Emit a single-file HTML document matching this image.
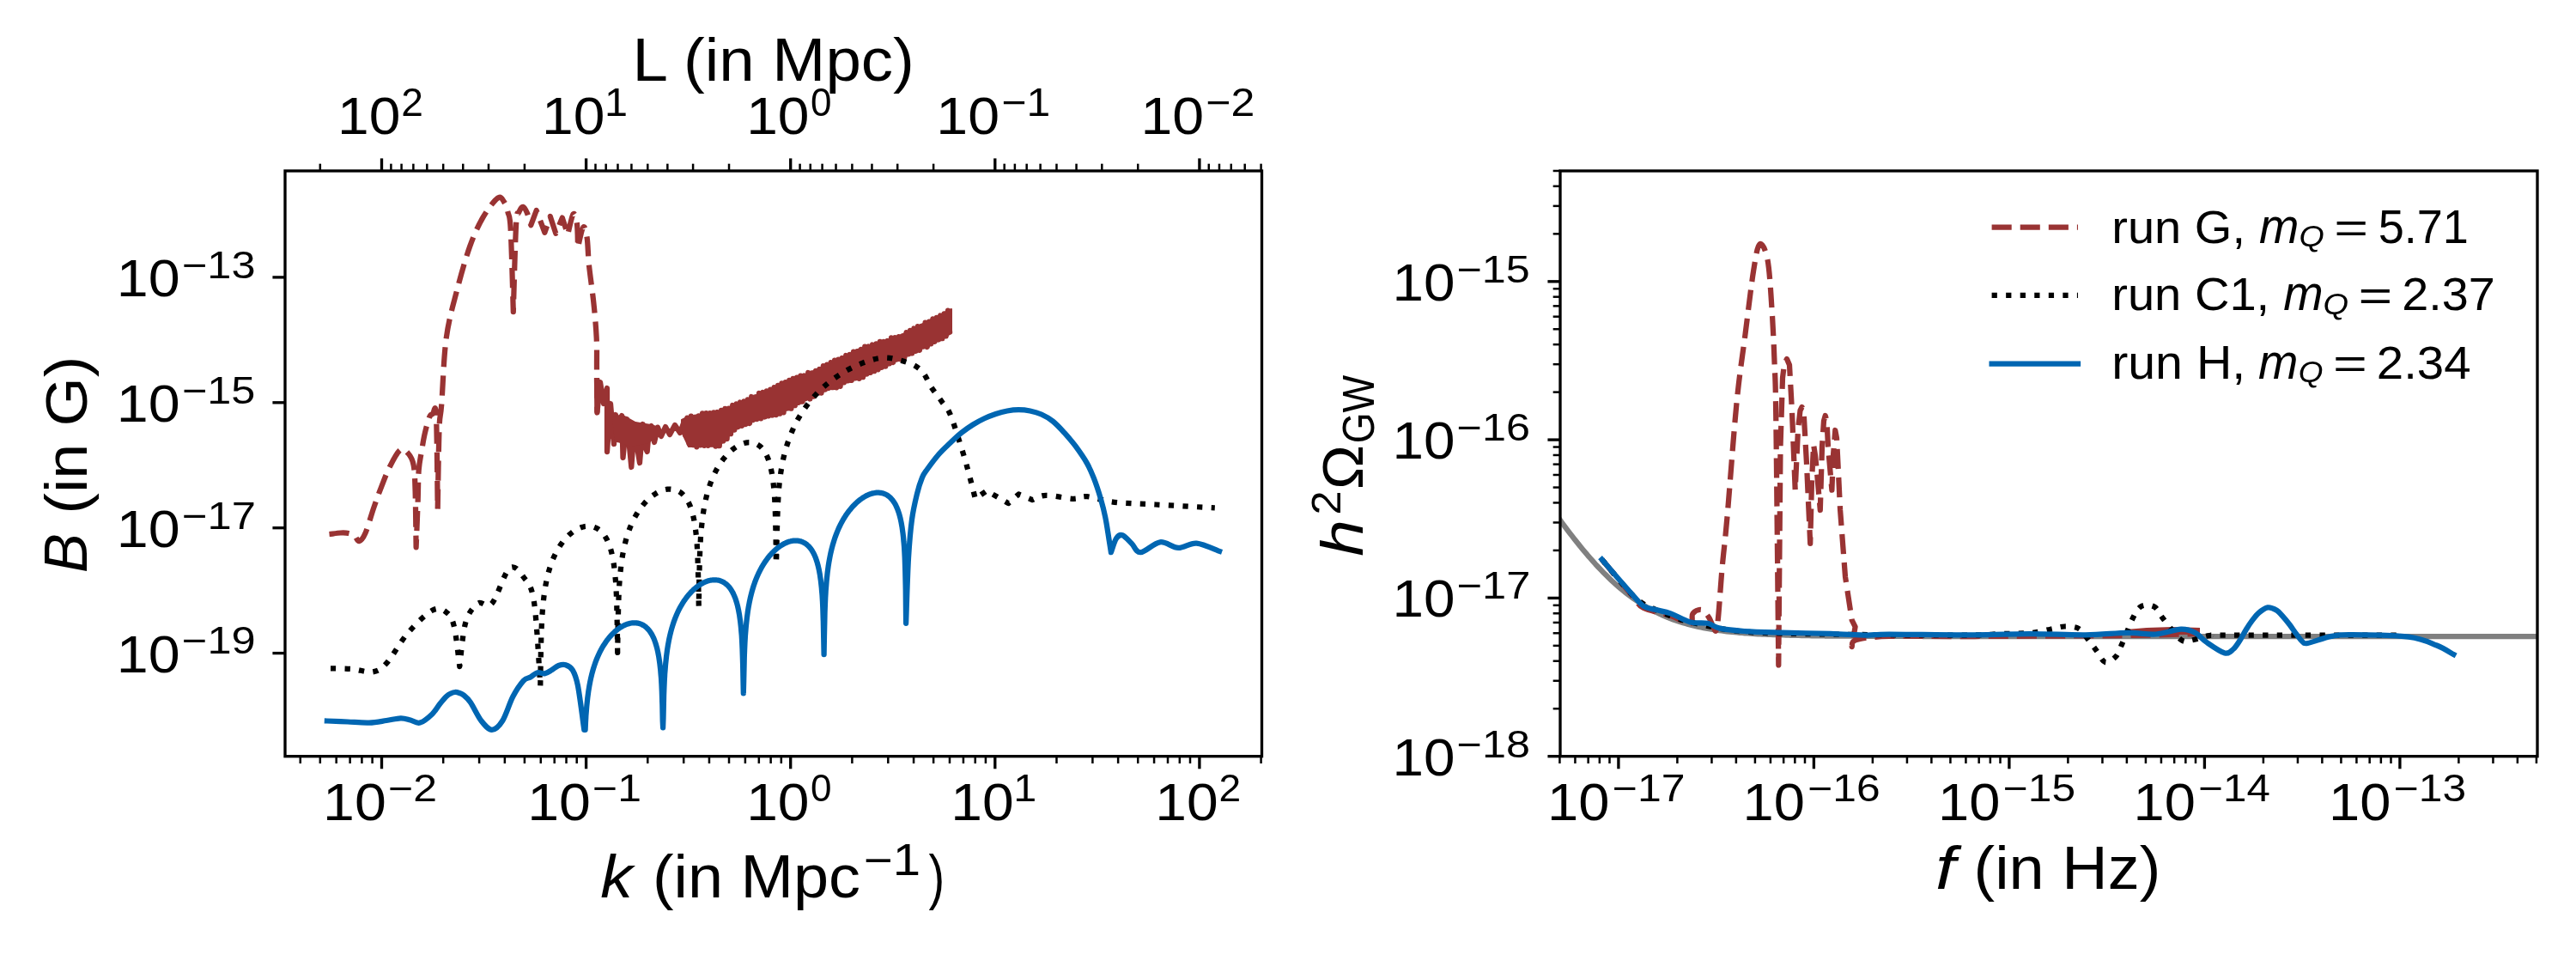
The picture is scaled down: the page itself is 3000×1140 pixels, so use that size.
<!DOCTYPE html>
<html><head><meta charset="utf-8"><style>html,body{margin:0;padding:0;background:#fff;}svg{display:block;will-change:transform;}text{font-family:"Liberation Sans",sans-serif;}</style></head>
<body>
<svg width="3000" height="1140" viewBox="0 0 3000 1140">
<rect width="3000" height="1140" fill="#fff"/>
<defs><clipPath id="cl"><rect x="332" y="199" width="1137.5" height="681.7"/></clipPath><clipPath id="cr"><rect x="1817" y="199" width="1138" height="681.7"/></clipPath></defs>
<path d="M383.5,622.0 C385.7,621.8 393.1,620.7 396.8,620.5 C400.6,620.3 403.3,620.4 406.0,621.0 C408.7,621.6 411.0,622.5 413.0,624.0 C415.0,625.5 416.1,630.7 418.2,630.2 C420.3,629.7 422.5,627.6 425.4,621.0 C428.3,614.4 432.5,599.2 435.6,590.3 C438.7,581.4 440.7,575.6 443.8,567.8 C446.9,560.0 450.3,550.6 454.0,543.3 C457.7,536.0 462.6,526.4 466.2,523.9 C469.8,521.4 472.8,525.1 475.4,528.0 C478.0,530.9 480.2,534.0 481.6,541.3 C483.0,548.6 483.1,556.0 483.6,572.0 C484.1,588.0 484.4,626.4 484.6,637.3 C485.0,628.1 486.2,597.1 486.7,582.1 C487.2,567.1 487.0,556.6 487.7,547.4 C488.4,538.2 489.5,534.1 490.7,527.0 C491.9,519.9 493.2,511.3 494.8,504.5 C496.4,497.7 498.5,489.8 500.0,486.0 C501.5,482.2 502.7,482.3 504.0,482.0 C505.3,481.7 507.1,465.5 508.0,484.0 C508.9,502.5 509.4,574.7 509.7,592.8 C510.0,577.3 510.8,520.2 511.5,500.0 C512.2,479.8 512.8,489.2 514.2,471.5 C515.6,453.8 516.7,416.0 519.7,393.9 C522.7,371.8 527.4,356.6 532.0,338.7 C536.6,320.8 542.2,300.9 547.3,286.6 C552.4,272.3 557.2,262.2 562.6,252.9 C568.0,243.6 575.6,233.5 579.7,230.6 C583.8,227.7 585.2,232.6 587.2,235.4 C589.2,238.2 590.2,241.8 591.5,247.2 C592.8,252.6 593.7,248.3 594.7,267.6 C595.8,286.9 597.3,347.3 597.8,363.2 C598.3,346.2 600.0,280.4 601.1,261.1 C602.2,241.8 602.9,250.6 604.3,247.2 C605.6,243.8 607.6,240.6 609.2,240.8 C610.8,241.0 612.5,244.7 614.0,248.3 C615.5,251.9 617.6,259.9 618.3,262.2 C619.4,259.3 623.6,247.9 624.7,245.0 C626.3,249.3 632.8,266.5 634.4,270.8 C635.5,267.7 639.7,255.1 640.8,252.0 C641.9,255.3 646.2,268.6 647.3,271.9 C648.5,268.8 653.5,256.6 654.8,253.6 C655.9,256.8 660.1,269.8 661.2,273.0 C662.3,269.1 665.8,251.5 667.6,249.3 C669.4,247.1 671.0,253.6 671.9,260.0 C672.8,266.4 672.8,283.3 673.0,288.0 C674.1,284.1 677.6,266.2 679.4,264.4 C681.2,262.6 682.6,269.8 683.7,277.2 C684.8,284.6 684.7,296.5 686.0,309.0 C687.3,321.5 689.8,337.9 691.3,352.0 C692.8,366.1 694.1,380.7 694.7,393.7 C695.3,406.7 694.9,415.5 695.0,430.0 C695.1,444.5 695.3,472.1 695.4,480.5" fill="none" stroke="#993333" stroke-width="6.25" stroke-linejoin="round" stroke-linecap="butt" stroke-dasharray="23.1 10" clip-path="url(#cl)"/>
<path d="M695.0,440.0 L695.4,480.5 L699.0,445.0 L703.0,470.0 L707.0,452.0 L707.0,526.0 L711.0,470.0 L715.0,517.0 L717.0,483.0 L720.0,512.0 L724.2,484.0 L725.5,533.0 L730.0,488.0 L733.0,520.0 L735.3,544.0 L739.0,494.0 L742.0,520.0 L745.0,539.0 L748.7,494.0 L751.0,520.0 L753.7,526.0 L756.0,500.0 L758.6,496.0 L762.0,515.0 L766.0,497.6 L770.0,508.0 L775.0,497.0 L780.0,506.0 L786.0,495.0 L792.0,504.0 L797.0,490.0" fill="none" stroke="#993333" stroke-width="6.25" stroke-linejoin="round" stroke-linecap="butt" clip-path="url(#cl)"/>
<path d="M713,486 L724,482 L740,491 L758,494 L768,497 L768,508 L755,516 L735,520 L716,514 Z" fill="#993333" clip-path="url(#cl)"/>
<path d="M794.0,489.0 L802.0,485.0 L836.0,479.5 L850.0,474.0 L909.0,447.5 L950.0,431.0 L999.0,407.0 L1048.0,391.0 L1108.0,360.0 L1108.0,388.0 L1048.0,418.0 L999.0,440.0 L950.0,459.0 L909.0,480.0 L856.0,497.0 L850.0,506.0 L836.0,519.0 L802.0,520.0 L794.0,503.0Z" fill="#993333" stroke="#993333" stroke-width="2" stroke-linejoin="round" clip-path="url(#cl)"/>
<path d="M796.0,489.3 L798.2,506.9 L800.4,486.7 L802.6,516.4 L804.8,484.7 L807.0,518.1 L809.2,485.8 L811.4,520.3 L813.6,484.3 L815.8,518.4 L818.0,481.4 L820.2,518.9 L822.4,481.2 L824.6,518.8 L826.8,481.1 L829.0,517.7 L831.2,480.4 L833.4,519.7 L835.6,480.0 L837.8,519.2 L840.0,477.9 L842.2,513.5 L844.4,475.9 L846.6,511.0 L848.8,475.6 L851.0,505.2 L853.2,472.0 L855.4,500.6 L857.6,470.4 L859.8,497.1 L862.0,468.5 L864.2,495.8 L866.4,467.4 L868.6,494.1 L870.8,465.3 L873.0,493.1 L875.2,462.0 L877.4,489.1 L879.6,462.3 L881.8,488.1 L884.0,457.8 L886.2,487.3 L888.4,456.9 L890.6,485.5 L892.8,455.3 L895.0,484.4 L897.2,453.7 L899.4,483.5 L901.6,451.1 L903.8,483.1 L906.0,448.8 L908.2,481.7 L910.4,446.4 L912.6,480.3 L914.8,445.2 L917.0,475.5 L919.2,442.8 L921.4,475.7 L923.6,440.9 L925.8,472.2 L928.0,439.7 L930.2,468.9 L932.4,437.6 L934.6,467.7 L936.8,437.5 L939.0,464.0 L941.2,434.0 L943.4,464.5 L945.6,434.5 L947.8,461.7 L950.0,431.8 L952.2,457.5 L954.4,430.0 L956.6,457.6 L958.8,426.1 L961.0,453.7 L963.2,424.7 L965.4,452.0 L967.6,422.2 L969.8,451.2 L972.0,419.6 L974.2,451.4 L976.4,418.6 L978.6,449.8 L980.8,417.0 L983.0,445.3 L985.2,414.0 L987.4,443.4 L989.6,413.0 L991.8,442.9 L994.0,409.6 L996.2,440.4 L998.4,409.2 L1000.6,440.8 L1002.8,406.8 L1005.0,439.2 L1007.2,403.6 L1009.4,435.5 L1011.6,403.5 L1013.8,433.9 L1016.0,401.5 L1018.2,432.2 L1020.4,400.3 L1022.6,430.3 L1024.8,397.8 L1027.0,427.9 L1029.2,397.8 L1031.4,426.6 L1033.6,397.0 L1035.8,423.4 L1038.0,393.3 L1040.2,422.1 L1042.4,393.2 L1044.6,418.5 L1046.8,392.1 L1049.0,418.3 L1051.2,391.3 L1053.4,416.2 L1055.6,387.2 L1057.8,412.4 L1060.0,384.9 L1062.2,411.4 L1064.4,382.5 L1066.6,408.9 L1068.8,380.1 L1071.0,407.8 L1073.2,379.9 L1075.4,403.6 L1077.6,375.7 L1079.8,404.1 L1082.0,374.7 L1084.2,400.4 L1086.4,371.4 L1088.6,397.8 L1090.8,369.8 L1093.0,395.5 L1095.2,367.5 L1097.4,394.2 L1099.6,365.4 L1101.8,391.3 L1104.0,361.7 L1106.2,388.1" fill="none" stroke="#993333" stroke-width="6.25" stroke-linejoin="round" stroke-linecap="butt" clip-path="url(#cl)"/>
<path d="M385.0,778.3 C389.2,778.4 401.8,778.3 410.0,779.0 C418.2,779.7 427.3,783.5 434.0,782.4 C440.7,781.2 443.5,779.6 450.3,772.1 C457.1,764.6 466.0,747.6 474.8,737.4 C483.6,727.2 495.9,714.9 503.4,710.8 C510.9,706.7 515.6,709.8 519.8,712.9 C524.0,716.0 526.2,718.7 528.8,729.2 C531.4,739.8 534.2,768.4 535.3,776.2 C536.4,767.7 538.7,737.4 542.2,725.1 C545.7,712.9 551.4,706.4 556.5,702.7 C561.6,699.0 566.8,709.5 572.9,702.7 C579.0,695.9 587.2,666.9 593.3,661.8 C599.4,656.7 604.9,665.5 609.7,672.0 C614.5,678.5 618.6,679.5 621.9,700.6 C625.2,721.7 628.1,782.4 629.3,798.7 L629.7,768.1 L630.2,745.9 L630.3,741.0 L630.6,732.9 L631.0,723.6 L631.3,718.6 L631.4,716.3 L631.9,710.4 L632.3,705.3 L633.3,695.8 L634.3,688.4 L635.3,682.2 L636.3,677.0 L637.3,672.4 L638.3,668.3 L639.3,664.7 L640.3,661.3 L641.3,658.3 L642.3,655.5 L643.3,652.8 L644.3,650.4 L645.3,648.1 L646.3,646.0 L647.3,644.0 L648.3,642.0 L649.3,640.2 L650.3,638.5 L651.3,636.9 L652.3,635.3 L653.3,633.9 L654.3,632.5 L655.3,631.1 L656.3,629.8 L657.3,628.6 L658.3,627.5 L659.3,626.4 L660.3,625.3 L661.3,624.3 L662.3,623.3 L663.3,622.4 L664.3,621.6 L665.3,620.7 L666.3,620.0 L667.3,619.2 L668.3,618.5 L669.3,617.9 L670.3,617.3 L671.3,616.7 L672.3,616.1 L673.3,615.6 L674.3,615.2 L675.3,614.8 L676.3,614.4 L677.3,614.0 L678.3,613.7 L679.3,613.5 L680.3,613.2 L681.3,613.0 L682.3,612.9 L683.3,612.8 L684.3,612.7 L685.3,612.7 L686.3,612.7 L687.3,612.8 L688.3,612.9 L689.3,613.1 L690.3,613.3 L691.3,613.6 L692.3,614.0 L693.3,614.4 L694.3,614.8 L695.3,615.3 L696.3,615.9 L697.3,616.6 L698.3,617.3 L699.3,618.2 L700.3,619.1 L701.3,620.2 L702.3,621.3 L703.3,622.6 L704.3,624.0 L705.3,625.6 L706.3,627.3 L707.3,629.2 L708.3,631.4 L709.3,633.9 L710.3,636.7 L711.3,639.9 L712.3,643.7 L713.3,648.1 L714.3,653.5 L715.3,660.2 L716.2,668.1 L716.3,669.1 L716.6,672.8 L717.1,678.3 L717.3,682.0 L717.5,685.2 L717.9,694.1 L718.3,705.3 L718.3,706.8 L718.8,728.5 L719.2,759.9 L719.6,732.1 L720.1,709.9 L720.2,704.9 L720.5,696.8 L720.9,687.5 L721.2,682.5 L721.3,680.2 L721.8,674.2 L722.2,669.2 L723.2,659.6 L724.2,652.0 L725.2,645.8 L726.2,640.5 L727.2,635.8 L728.2,631.7 L729.2,627.9 L730.2,624.5 L731.2,621.4 L732.2,618.5 L733.2,615.8 L734.2,613.2 L735.2,610.9 L736.2,608.6 L737.2,606.5 L738.2,604.5 L739.2,602.6 L740.2,600.8 L741.2,599.0 L742.2,597.4 L743.2,595.8 L744.2,594.3 L745.2,592.9 L746.2,591.5 L747.2,590.1 L748.2,588.9 L749.2,587.6 L750.2,586.5 L751.2,585.3 L752.2,584.3 L753.2,583.2 L754.2,582.2 L755.2,581.3 L756.2,580.4 L757.2,579.5 L758.2,578.7 L759.2,577.9 L760.2,577.1 L761.2,576.4 L762.2,575.7 L763.2,575.1 L764.2,574.4 L765.2,573.9 L766.2,573.3 L767.2,572.8 L768.2,572.3 L769.2,571.9 L770.2,571.5 L771.2,571.1 L772.2,570.8 L773.2,570.5 L774.2,570.2 L775.2,570.0 L776.2,569.8 L777.2,569.7 L778.2,569.6 L779.2,569.5 L780.2,569.5 L781.2,569.5 L782.2,569.6 L783.2,569.7 L784.2,569.9 L785.2,570.1 L786.2,570.3 L787.2,570.6 L788.2,571.0 L789.2,571.5 L790.2,572.0 L791.2,572.5 L792.2,573.2 L793.2,573.9 L794.2,574.7 L795.2,575.7 L796.2,576.7 L797.2,577.8 L798.2,579.1 L799.2,580.5 L800.2,582.0 L801.2,583.8 L802.2,585.7 L803.2,588.0 L804.2,590.5 L805.2,593.3 L806.2,596.6 L807.2,600.5 L808.2,605.1 L809.2,610.8 L810.2,618.0 L810.8,623.4 L811.2,627.7 L811.2,628.1 L811.7,633.6 L812.1,640.5 L812.2,642.6 L812.5,649.3 L812.9,662.0 L813.2,673.1 L813.4,683.7 L813.8,706.7 L814.2,678.8 L814.7,656.6 L814.8,651.6 L815.1,643.5 L815.5,634.1 L815.8,629.1 L815.9,626.8 L816.4,620.8 L816.8,615.7 L817.8,606.1 L818.8,598.5 L819.8,592.2 L820.8,586.8 L821.8,582.1 L822.8,577.9 L823.8,574.1 L824.8,570.6 L825.8,567.4 L826.8,564.4 L827.8,561.7 L828.8,559.1 L829.8,556.7 L830.8,554.4 L831.8,552.2 L832.8,550.2 L833.8,548.2 L834.8,546.3 L835.8,544.6 L836.8,542.9 L837.8,541.3 L838.8,539.7 L839.8,538.2 L840.8,536.8 L841.8,535.4 L842.8,534.1 L843.8,532.9 L844.8,531.7 L845.8,530.5 L846.8,529.4 L847.8,528.4 L848.8,527.4 L849.8,526.4 L850.8,525.5 L851.8,524.6 L852.8,523.7 L853.8,522.9 L854.8,522.2 L855.8,521.5 L856.8,520.8 L857.8,520.1 L858.8,519.5 L859.8,518.9 L860.8,518.4 L861.8,517.9 L862.8,517.5 L863.8,517.1 L864.8,516.7 L865.8,516.3 L866.8,516.0 L867.8,515.8 L868.8,515.6 L869.8,515.4 L870.8,515.3 L871.8,515.2 L872.8,515.2 L873.8,515.2 L874.8,515.3 L875.8,515.4 L876.8,515.6 L877.8,515.8 L878.8,516.1 L879.8,516.5 L880.8,516.9 L881.8,517.4 L882.8,518.0 L883.8,518.7 L884.8,519.4 L885.8,520.3 L886.8,521.3 L887.8,522.4 L888.8,523.6 L889.8,525.0 L890.8,526.5 L891.8,528.3 L892.8,530.3 L893.8,532.5 L894.8,535.0 L895.8,538.0 L896.8,541.4 L897.8,545.5 L898.8,550.4 L899.8,556.5 L900.8,564.5 L901.0,566.4 L901.4,571.1 L901.8,575.8 L901.9,576.6 L902.3,583.4 L902.7,592.2 L902.8,594.4 L903.1,604.8 L903.6,626.5 L903.8,650.5 L904.0,656.3 L904.0,656.3 C904.7,640.2 904.9,585.8 908.0,560.0 C911.1,534.2 915.7,518.5 922.6,501.8 C929.5,485.2 939.2,471.7 949.6,460.1 C960.0,448.5 972.8,439.1 985.0,432.0 C997.2,424.9 1012.3,419.2 1023.1,417.2 C1033.9,415.2 1041.8,417.8 1050.0,420.0 C1058.2,422.2 1066.3,425.4 1072.2,430.7 C1078.1,436.0 1081.2,445.9 1085.3,452.0 C1089.4,458.1 1093.2,462.4 1096.7,467.5 C1100.2,472.6 1102.5,472.7 1106.6,482.5 C1110.7,492.3 1117.2,513.4 1121.2,526.3 C1125.2,539.1 1128.1,550.5 1130.5,559.6 C1132.9,568.7 1134.9,577.3 1135.8,580.8 C1138.0,579.2 1146.9,573.0 1149.1,571.5 C1153.3,573.9 1170.1,583.7 1174.3,586.1 C1176.3,584.3 1184.3,577.3 1186.3,575.5 C1189.0,576.6 1199.5,581.0 1202.2,582.1 C1204.9,581.2 1210.2,577.0 1218.2,576.8 C1226.2,576.6 1242.0,580.6 1250.0,580.8 C1258.0,581.0 1258.0,577.5 1266.0,578.2 C1274.0,578.9 1284.6,583.2 1297.9,584.8 C1311.2,586.3 1326.2,586.4 1345.7,587.5 C1365.2,588.6 1403.3,590.8 1414.8,591.4" fill="none" stroke="#000" stroke-width="6.25" stroke-linejoin="round" stroke-linecap="butt" stroke-dasharray="6.25 10.3" clip-path="url(#cl)"/>
<path d="M380.9,839.5 C384.9,839.7 396.8,840.1 405.0,840.5 C413.2,840.9 422.4,841.9 429.9,841.6 C437.4,841.4 443.9,839.9 450.0,839.0 C456.1,838.1 462.0,836.4 466.7,836.3 C471.4,836.2 474.3,837.6 478.0,838.5 C481.7,839.4 484.9,842.8 489.1,841.6 C493.3,840.4 499.6,835.0 503.4,831.4 C507.2,827.8 509.3,823.4 512.0,820.0 C514.7,816.6 517.6,813.1 519.8,811.0 C522.0,808.9 523.3,808.3 525.0,807.5 C526.7,806.7 528.3,806.1 530.0,806.0 C531.7,805.9 533.3,806.4 535.0,807.0 C536.7,807.6 537.8,807.7 540.0,809.5 C542.2,811.3 544.6,813.0 548.0,818.0 C551.4,823.0 556.5,834.2 560.6,839.5 C564.8,844.8 568.8,849.8 572.9,849.8 C577.0,849.8 581.0,846.0 585.1,839.5 C589.2,833.0 593.3,818.8 597.4,811.0 C601.5,803.2 606.3,796.4 609.7,792.6 C613.1,788.9 615.1,790.1 617.8,788.5 C620.5,786.9 623.3,783.9 626.0,783.2 C628.7,782.5 631.5,784.9 634.2,784.4 C636.9,783.9 639.7,781.9 642.4,780.3 C645.1,778.7 647.8,776.0 650.5,775.0 C653.2,774.0 656.0,773.3 658.7,774.2 C661.4,775.1 664.5,776.2 666.9,780.3 C669.3,784.4 670.8,787.1 673.0,798.7 C675.2,810.3 679.1,841.3 680.3,849.8 L680.7,849.8 L681.2,849.8 L681.3,849.8 L681.6,849.8 L682.0,840.5 L682.3,835.5 L682.4,833.2 L682.9,827.3 L683.3,822.2 L684.3,812.6 L685.3,805.1 L686.3,798.9 L687.3,793.6 L688.3,788.9 L689.3,784.8 L690.3,781.1 L691.3,777.7 L692.3,774.6 L693.3,771.7 L694.3,769.0 L695.3,766.5 L696.3,764.2 L697.3,762.0 L698.3,759.9 L699.3,757.9 L700.3,756.0 L701.3,754.2 L702.3,752.5 L703.3,750.9 L704.3,749.4 L705.3,747.9 L706.3,746.5 L707.3,745.1 L708.3,743.9 L709.3,742.6 L710.3,741.4 L711.3,740.3 L712.3,739.2 L713.3,738.2 L714.3,737.2 L715.3,736.3 L716.3,735.3 L717.3,734.5 L718.3,733.7 L719.3,732.9 L720.3,732.1 L721.3,731.4 L722.3,730.8 L723.3,730.1 L724.3,729.6 L725.3,729.0 L726.3,728.5 L727.3,728.0 L728.3,727.6 L729.3,727.2 L730.3,726.8 L731.3,726.5 L732.3,726.2 L733.3,725.9 L734.3,725.7 L735.3,725.5 L736.3,725.4 L737.3,725.3 L738.3,725.3 L739.3,725.3 L740.3,725.3 L741.3,725.4 L742.3,725.6 L743.3,725.7 L744.3,726.0 L745.3,726.3 L746.3,726.7 L747.3,727.1 L748.3,727.6 L749.3,728.1 L750.3,728.8 L751.3,729.5 L752.3,730.3 L753.3,731.2 L754.3,732.2 L755.3,733.3 L756.3,734.5 L757.3,735.9 L758.3,737.4 L759.3,739.1 L760.3,741.1 L761.3,743.2 L762.3,745.7 L763.3,748.5 L764.3,751.7 L765.3,755.4 L766.3,759.9 L767.3,765.3 L768.3,772.2 L769.1,779.2 L769.3,781.3 L769.5,783.9 L770.0,789.4 L770.3,794.8 L770.4,796.3 L770.8,805.2 L771.2,817.8 L771.3,820.0 L771.7,839.5 L772.1,847.3 L772.5,836.5 L773.0,814.4 L773.1,809.4 L773.4,801.3 L773.8,792.0 L774.1,787.0 L774.2,784.7 L774.7,778.7 L775.1,773.6 L776.1,764.1 L777.1,756.5 L778.1,750.3 L779.1,745.0 L780.1,740.4 L781.1,736.2 L782.1,732.5 L783.1,729.1 L784.1,726.0 L785.1,723.1 L786.1,720.4 L787.1,717.9 L788.1,715.5 L789.1,713.3 L790.1,711.2 L791.1,709.2 L792.1,707.3 L793.1,705.5 L794.1,703.8 L795.1,702.2 L796.1,700.6 L797.1,699.1 L798.1,697.7 L799.1,696.3 L800.1,695.0 L801.1,693.8 L802.1,692.6 L803.1,691.4 L804.1,690.3 L805.1,689.2 L806.1,688.2 L807.1,687.3 L808.1,686.3 L809.1,685.4 L810.1,684.6 L811.1,683.8 L812.1,683.0 L813.1,682.3 L814.1,681.6 L815.1,680.9 L816.1,680.3 L817.1,679.7 L818.1,679.2 L819.1,678.6 L820.1,678.2 L821.1,677.7 L822.1,677.3 L823.1,676.9 L824.1,676.6 L825.1,676.3 L826.1,676.0 L827.1,675.8 L828.1,675.6 L829.1,675.5 L830.1,675.4 L831.1,675.3 L832.1,675.3 L833.1,675.3 L834.1,675.4 L835.1,675.5 L836.1,675.6 L837.1,675.8 L838.1,676.1 L839.1,676.4 L840.1,676.8 L841.1,677.2 L842.1,677.7 L843.1,678.3 L844.1,679.0 L845.1,679.7 L846.1,680.5 L847.1,681.4 L848.1,682.4 L849.1,683.6 L850.1,684.8 L851.1,686.2 L852.1,687.8 L853.1,689.5 L854.1,691.5 L855.1,693.7 L856.1,696.1 L857.1,699.0 L858.1,702.2 L859.1,706.0 L860.1,710.6 L861.1,716.1 L862.1,723.2 L862.8,729.4 L863.1,732.6 L863.2,734.1 L863.7,739.6 L864.1,746.5 L864.1,746.7 L864.5,755.4 L864.9,768.0 L865.1,774.3 L865.4,789.7 L865.8,807.4 L866.2,792.7 L866.7,770.5 L866.8,765.6 L867.1,757.5 L867.5,748.1 L867.8,743.1 L867.9,740.8 L868.4,734.8 L868.8,729.7 L869.8,720.1 L870.8,712.6 L871.8,706.3 L872.8,701.0 L873.8,696.3 L874.8,692.2 L875.8,688.4 L876.8,685.0 L877.8,681.8 L878.8,678.9 L879.8,676.2 L880.8,673.6 L881.8,671.2 L882.8,669.0 L883.8,666.8 L884.8,664.8 L885.8,662.9 L886.8,661.1 L887.8,659.3 L888.8,657.7 L889.8,656.1 L890.8,654.5 L891.8,653.1 L892.8,651.7 L893.8,650.3 L894.8,649.0 L895.8,647.8 L896.8,646.6 L897.8,645.5 L898.8,644.4 L899.8,643.4 L900.8,642.4 L901.8,641.4 L902.8,640.5 L903.8,639.6 L904.8,638.8 L905.8,637.9 L906.8,637.2 L907.8,636.5 L908.8,635.8 L909.8,635.1 L910.8,634.5 L911.8,633.9 L912.8,633.4 L913.8,632.8 L914.8,632.4 L915.8,631.9 L916.8,631.5 L917.8,631.1 L918.8,630.8 L919.8,630.5 L920.8,630.3 L921.8,630.0 L922.8,629.8 L923.8,629.7 L924.8,629.6 L925.8,629.5 L926.8,629.5 L927.8,629.6 L928.8,629.6 L929.8,629.8 L930.8,629.9 L931.8,630.2 L932.8,630.4 L933.8,630.8 L934.8,631.2 L935.8,631.7 L936.8,632.2 L937.8,632.8 L938.8,633.5 L939.8,634.3 L940.8,635.2 L941.8,636.1 L942.8,637.2 L943.8,638.4 L944.8,639.8 L945.8,641.3 L946.8,643.0 L947.8,644.9 L948.8,647.0 L949.8,649.4 L950.8,652.2 L951.8,655.4 L952.8,659.1 L953.8,663.5 L954.8,668.9 L955.8,675.7 L956.6,682.8 L956.8,684.8 L957.0,687.4 L957.5,693.0 L957.8,698.3 L957.9,699.8 L958.3,708.7 L958.7,721.3 L958.8,723.4 L959.2,743.0 L959.6,762.2 L960.0,739.9 L960.5,717.7 L960.6,712.7 L960.9,704.6 L961.3,695.2 L961.6,690.2 L961.7,687.9 L962.2,681.9 L962.6,676.8 L963.6,667.2 L964.6,659.6 L965.6,653.3 L966.6,648.0 L967.6,643.2 L968.6,639.0 L969.6,635.2 L970.6,631.8 L971.6,628.6 L972.6,625.6 L973.6,622.9 L974.6,620.3 L975.6,617.9 L976.6,615.6 L977.6,613.4 L978.6,611.3 L979.6,609.4 L980.6,607.5 L981.6,605.7 L982.6,604.0 L983.6,602.4 L984.6,600.8 L985.6,599.3 L986.6,597.9 L987.6,596.5 L988.6,595.2 L989.6,593.9 L990.6,592.7 L991.6,591.5 L992.6,590.3 L993.6,589.2 L994.6,588.2 L995.6,587.2 L996.6,586.2 L997.6,585.3 L998.6,584.4 L999.6,583.5 L1000.6,582.7 L1001.6,581.9 L1002.6,581.2 L1003.6,580.5 L1004.6,579.8 L1005.6,579.2 L1006.6,578.5 L1007.6,578.0 L1008.6,577.4 L1009.6,576.9 L1010.6,576.5 L1011.6,576.0 L1012.6,575.6 L1013.6,575.3 L1014.6,574.9 L1015.6,574.6 L1016.6,574.4 L1017.6,574.2 L1018.6,574.0 L1019.6,573.8 L1020.6,573.7 L1021.6,573.7 L1022.6,573.7 L1023.6,573.7 L1024.6,573.8 L1025.6,573.9 L1026.6,574.1 L1027.6,574.3 L1028.6,574.6 L1029.6,574.9 L1030.6,575.3 L1031.6,575.8 L1032.6,576.3 L1033.6,576.9 L1034.6,577.6 L1035.6,578.4 L1036.6,579.3 L1037.6,580.3 L1038.6,581.4 L1039.6,582.6 L1040.6,584.0 L1041.6,585.5 L1042.6,587.2 L1043.6,589.2 L1044.6,591.4 L1045.6,593.9 L1046.6,596.7 L1047.6,600.0 L1048.6,603.9 L1049.6,608.6 L1050.6,614.3 L1051.6,621.7 L1052.1,626.2 L1052.5,630.9 L1052.6,631.7 L1053.0,636.4 L1053.4,643.2 L1053.6,647.3 L1053.8,652.1 L1054.2,664.7 L1054.6,681.5 L1054.7,686.4 L1055.1,725.8 L1055.1,725.8 C1055.6,713.2 1056.8,670.1 1058.0,650.0 C1059.2,629.9 1060.3,617.5 1062.0,605.0 C1063.7,592.5 1066.0,583.2 1068.0,575.0 C1070.0,566.8 1072.0,560.8 1074.0,556.0 C1076.0,551.2 1076.8,550.8 1080.0,546.3 C1083.2,541.8 1088.9,534.1 1093.3,529.0 C1097.7,523.9 1102.2,519.9 1106.6,515.7 C1111.0,511.5 1115.5,507.3 1119.9,503.8 C1124.3,500.3 1128.7,497.2 1133.1,494.5 C1137.5,491.8 1142.0,489.4 1146.4,487.3 C1150.8,485.2 1155.3,483.5 1159.7,482.0 C1164.1,480.5 1168.6,479.3 1173.0,478.5 C1177.4,477.7 1181.9,477.2 1186.3,477.2 C1190.7,477.2 1195.2,477.6 1199.6,478.5 C1204.0,479.4 1208.4,480.5 1212.8,482.5 C1217.2,484.5 1221.7,486.9 1226.1,490.5 C1230.5,494.1 1235.0,498.9 1239.4,503.8 C1243.8,508.7 1248.3,513.7 1252.7,519.7 C1257.1,525.7 1262.5,533.4 1266.0,539.6 C1269.5,545.8 1271.2,550.0 1273.9,556.9 C1276.6,563.8 1279.7,573.3 1281.9,580.8 C1284.1,588.3 1285.7,594.6 1287.2,602.1 C1288.8,609.6 1290.1,619.1 1291.2,626.0 C1292.3,632.9 1293.5,640.3 1293.9,643.2 C1294.9,640.5 1297.8,630.3 1300.0,627.0 C1302.2,623.7 1304.2,622.3 1307.2,623.3 C1310.2,624.3 1314.5,629.7 1318.0,633.0 C1321.5,636.3 1322.9,643.5 1328.4,643.2 C1333.9,642.9 1343.7,632.2 1351.0,631.3 C1358.3,630.4 1365.1,637.7 1372.2,637.9 C1379.3,638.1 1385.5,631.9 1393.5,632.6 C1401.5,633.3 1415.7,640.4 1420.1,641.9" fill="none" stroke="#0066b2" stroke-width="6.25" stroke-linejoin="round" stroke-linecap="square" clip-path="url(#cl)"/>
<path d="M1780.0,551.8 L1783.0,556.4 L1786.0,560.9 L1789.0,565.4 L1792.0,569.9 L1795.0,574.3 L1798.0,578.7 L1801.0,583.1 L1804.0,587.4 L1807.0,591.7 L1810.0,596.0 L1813.0,600.2 L1816.0,604.3 L1819.0,608.5 L1822.0,612.5 L1825.0,616.5 L1828.0,620.5 L1831.0,624.4 L1834.0,628.3 L1837.0,632.0 L1840.0,635.8 L1843.0,639.4 L1846.0,643.0 L1849.0,646.6 L1852.0,650.0 L1855.0,653.4 L1858.0,656.8 L1861.0,660.0 L1864.0,663.2 L1867.0,666.3 L1870.0,669.3 L1873.0,672.3 L1876.0,675.2 L1879.0,678.0 L1882.0,680.7 L1885.0,683.3 L1888.0,685.9 L1891.0,688.3 L1894.0,690.7 L1897.0,693.1 L1900.0,695.3 L1903.0,697.5 L1906.0,699.5 L1909.0,701.5 L1912.0,703.5 L1915.0,705.3 L1918.0,707.1 L1921.0,708.8 L1924.0,710.5 L1927.0,712.0 L1930.0,713.5 L1933.0,715.0 L1936.0,716.3 L1939.0,717.6 L1942.0,718.9 L1945.0,720.1 L1948.0,721.2 L1951.0,722.3 L1954.0,723.3 L1957.0,724.3 L1960.0,725.2 L1963.0,726.1 L1966.0,726.9 L1969.0,727.7 L1972.0,728.5 L1975.0,729.2 L1978.0,729.9 L1981.0,730.5 L1984.0,731.1 L1987.0,731.7 L1990.0,732.2 L1993.0,732.7 L1996.0,733.2 L1999.0,733.7 L2002.0,734.1 L2005.0,734.5 L2008.0,734.9 L2011.0,735.3 L2014.0,735.6 L2017.0,735.9 L2020.0,736.2 L2023.0,736.5 L2026.0,736.8 L2029.0,737.0 L2032.0,737.3 L2035.0,737.5 L2038.0,737.7 L2041.0,737.9 L2044.0,738.1 L2047.0,738.3 L2050.0,738.4 L2053.0,738.6 L2056.0,738.7 L2059.0,738.9 L2062.0,739.0 L2065.0,739.1 L2068.0,739.2 L2071.0,739.3 L2074.0,739.4 L2077.0,739.5 L2080.0,739.6 L2083.0,739.7 L2086.0,739.8 L2089.0,739.9 L2092.0,739.9 L2095.0,740.0 L2098.0,740.1 L2101.0,740.1 L2104.0,740.2 L2107.0,740.2 L2110.0,740.3 L2113.0,740.3 L2116.0,740.3 L2119.0,740.4 L2122.0,740.4 L2125.0,740.5 L2128.0,740.5 L2131.0,740.5 L2134.0,740.6 L2137.0,740.6 L2140.0,740.6 L2143.0,740.6 L2146.0,740.7 L2149.0,740.7 L2152.0,740.7 L2155.0,740.7 L2158.0,740.7 L2161.0,740.7 L2164.0,740.8 L2167.0,740.8 L2170.0,740.8 L2173.0,740.8 L2176.0,740.8 L2179.0,740.8 L2182.0,740.8 L2185.0,740.8 L2188.0,740.9 L2191.0,740.9 L2194.0,740.9 L2197.0,740.9 L2200.0,740.9 L2203.0,740.9 L2206.0,740.9 L2209.0,740.9 L2212.0,740.9 L2215.0,740.9 L2218.0,740.9 L2221.0,740.9 L2224.0,740.9 L2227.0,740.9 L2230.0,740.9 L2233.0,740.9 L2236.0,740.9 L2239.0,741.0 L2242.0,741.0 L2245.0,741.0 L2248.0,741.0 L2251.0,741.0 L2254.0,741.0 L2257.0,741.0 L2260.0,741.0 L2263.0,741.0 L2266.0,741.0 L2269.0,741.0 L2272.0,741.0 L2275.0,741.0 L2278.0,741.0 L2281.0,741.0 L2284.0,741.0 L2287.0,741.0 L2290.0,741.0 L2293.0,741.0 L2296.0,741.0 L2299.0,741.0 L2302.0,741.0 L2305.0,741.0 L2308.0,741.0 L2311.0,741.0 L2314.0,741.0 L2317.0,741.0 L2320.0,741.0 L2323.0,741.0 L2326.0,741.0 L2329.0,741.0 L2332.0,741.0 L2335.0,741.0 L2338.0,741.0 L2341.0,741.0 L2344.0,741.0 L2347.0,741.0 L2350.0,741.0 L2353.0,741.0 L2356.0,741.0 L2359.0,741.0 L2362.0,741.0 L2365.0,741.0 L2368.0,741.0 L2371.0,741.0 L2374.0,741.0 L2377.0,741.0 L2380.0,741.0 L2383.0,741.0 L2386.0,741.0 L2389.0,741.0 L2392.0,741.0 L2395.0,741.0 L2398.0,741.0 L2401.0,741.0 L2404.0,741.0 L2407.0,741.0 L2410.0,741.0 L2413.0,741.0 L2416.0,741.0 L2419.0,741.0 L2422.0,741.0 L2425.0,741.0 L2428.0,741.0 L2431.0,741.0 L2434.0,741.0 L2437.0,741.0 L2440.0,741.0 L2443.0,741.0 L2446.0,741.0 L2449.0,741.0 L2452.0,741.0 L2455.0,741.0 L2458.0,741.0 L2461.0,741.0 L2464.0,741.0 L2467.0,741.0 L2470.0,741.0 L2473.0,741.0 L2476.0,741.0 L2479.0,741.0 L2482.0,741.0 L2485.0,741.0 L2488.0,741.0 L2491.0,741.0 L2494.0,741.0 L2497.0,741.0 L2500.0,741.0 L2503.0,741.0 L2506.0,741.0 L2509.0,741.0 L2512.0,741.0 L2515.0,741.0 L2518.0,741.0 L2521.0,741.0 L2524.0,741.0 L2527.0,741.0 L2530.0,741.0 L2533.0,741.0 L2536.0,741.0 L2539.0,741.0 L2542.0,741.0 L2545.0,741.0 L2548.0,741.0 L2551.0,741.0 L2554.0,741.0 L2557.0,741.0 L2560.0,741.0 L2563.0,741.0 L2566.0,741.0 L2569.0,741.0 L2572.0,741.0 L2575.0,741.0 L2578.0,741.0 L2581.0,741.0 L2584.0,741.0 L2587.0,741.0 L2590.0,741.0 L2593.0,741.0 L2596.0,741.0 L2599.0,741.0 L2602.0,741.0 L2605.0,741.0 L2608.0,741.0 L2611.0,741.0 L2614.0,741.0 L2617.0,741.0 L2620.0,741.0 L2623.0,741.0 L2626.0,741.0 L2629.0,741.0 L2632.0,741.0 L2635.0,741.0 L2638.0,741.0 L2641.0,741.0 L2644.0,741.0 L2647.0,741.0 L2650.0,741.0 L2653.0,741.0 L2656.0,741.0 L2659.0,741.0 L2662.0,741.0 L2665.0,741.0 L2668.0,741.0 L2671.0,741.0 L2674.0,741.0 L2677.0,741.0 L2680.0,741.0 L2683.0,741.0 L2686.0,741.0 L2689.0,741.0 L2692.0,741.0 L2695.0,741.0 L2698.0,741.0 L2701.0,741.0 L2704.0,741.0 L2707.0,741.0 L2710.0,741.0 L2713.0,741.0 L2716.0,741.0 L2719.0,741.0 L2722.0,741.0 L2725.0,741.0 L2728.0,741.0 L2731.0,741.0 L2734.0,741.0 L2737.0,741.0 L2740.0,741.0 L2743.0,741.0 L2746.0,741.0 L2749.0,741.0 L2752.0,741.0 L2755.0,741.0 L2758.0,741.0 L2761.0,741.0 L2764.0,741.0 L2767.0,741.0 L2770.0,741.0 L2773.0,741.0 L2776.0,741.0 L2779.0,741.0 L2782.0,741.0 L2785.0,741.0 L2788.0,741.0 L2791.0,741.0 L2794.0,741.0 L2797.0,741.0 L2800.0,741.0 L2803.0,741.0 L2806.0,741.0 L2809.0,741.0 L2812.0,741.0 L2815.0,741.0 L2818.0,741.0 L2821.0,741.0 L2824.0,741.0 L2827.0,741.0 L2830.0,741.0 L2833.0,741.0 L2836.0,741.0 L2839.0,741.0 L2842.0,741.0 L2845.0,741.0 L2848.0,741.0 L2851.0,741.0 L2854.0,741.0 L2857.0,741.0 L2860.0,741.0 L2863.0,741.0 L2866.0,741.0 L2869.0,741.0 L2872.0,741.0 L2875.0,741.0 L2878.0,741.0 L2881.0,741.0 L2884.0,741.0 L2887.0,741.0 L2890.0,741.0 L2893.0,741.0 L2896.0,741.0 L2899.0,741.0 L2902.0,741.0 L2905.0,741.0 L2908.0,741.0 L2911.0,741.0 L2914.0,741.0 L2917.0,741.0 L2920.0,741.0 L2923.0,741.0 L2926.0,741.0 L2929.0,741.0 L2932.0,741.0 L2935.0,741.0 L2938.0,741.0 L2941.0,741.0 L2944.0,741.0 L2947.0,741.0 L2950.0,741.0 L2953.0,741.0 L2956.0,741.0 L2959.0,741.0" fill="none" stroke="#808080" stroke-width="6.25" stroke-linejoin="round" stroke-linecap="square" clip-path="url(#cr)"/>
<path d="M1865.6,651.5 C1871.8,658.9 1894.7,686.6 1902.8,696.0 C1910.9,705.4 1907.0,704.5 1914.2,708.0 C1921.4,711.5 1936.7,714.0 1945.7,717.0 C1954.8,720.0 1964.2,726.4 1968.5,726.0 C1972.8,725.6 1969.2,717.0 1971.4,714.4 C1973.6,711.8 1978.3,709.4 1981.4,710.1 C1984.5,710.8 1987.6,715.1 1990.0,718.7 C1992.4,722.3 1994.8,729.5 1995.7,731.6 C1996.4,731.1 1998.3,740.6 2000.0,728.7 C2001.7,716.8 2003.8,681.1 2005.7,660.1 C2007.6,639.1 2008.6,634.7 2011.4,602.9 C2014.2,571.1 2019.0,504.5 2022.5,469.2 C2026.0,433.9 2029.0,416.4 2032.3,390.8 C2035.6,365.2 2039.3,333.3 2042.1,315.6 C2044.9,297.9 2046.6,286.7 2049.3,284.5 C2052.0,282.3 2056.2,290.2 2058.5,302.5 C2060.8,314.8 2062.1,337.9 2063.4,358.1 C2064.8,378.3 2065.8,401.7 2066.6,423.5 C2067.4,445.3 2067.5,430.3 2068.3,488.8 C2069.1,547.3 2070.8,726.9 2071.3,774.5 L2073.5,520.0 L2076.0,440.0 L2078.0,424.0 L2081.0,418.0 L2084.0,425.0 L2086.9,477.6 L2090.7,570.7 L2094.0,500.0 L2096.5,478.0 L2098.5,474.0 L2100.5,478.0 L2104.0,540.0 L2108.2,632.8 L2110.0,560.0 L2112.1,518.0 L2114.0,530.0 L2116.0,550.0 L2119.8,594.0 L2122.0,520.0 L2124.0,490.0 L2125.7,484.0 L2127.5,490.0 L2129.0,520.0 L2133.4,570.7 L2135.0,530.0 L2137.3,501.0 L2139.0,510.0 L2140.0,530.0 L2143.1,594.0 L2149.0,671.6 L2156.7,722.1 L2160.6,729.8 L2156.7,753.1 L2156.7,753.1 C2157.6,751.8 2154.8,747.0 2162.0,745.0 C2169.2,743.0 2177.0,741.7 2200.0,741.0 C2223.0,740.3 2253.8,741.2 2300.0,741.0 C2346.2,740.8 2433.7,740.5 2477.0,740.0 C2520.3,739.5 2546.2,738.3 2560.0,738.0" fill="none" stroke="#993333" stroke-width="6.25" stroke-linejoin="round" stroke-linecap="butt" stroke-dasharray="23.1 10" clip-path="url(#cr)"/>
<path d="M2476,733 L2500,731 L2530,730 L2562,731 L2562,739 L2530,739 L2500,739.5 L2476,740 Z" fill="#993333" clip-path="url(#cr)"/>
<path d="M1865.6,651.5 C1871.8,658.6 1892.3,684.6 1902.8,694.4 C1913.3,704.2 1917.5,705.1 1928.5,710.1 C1939.5,715.1 1951.3,720.2 1968.5,724.4 C1985.7,728.6 2004.2,733.1 2031.4,735.5 C2058.6,737.9 2088.4,737.8 2131.5,738.5 C2174.6,739.2 2256.9,739.6 2290.0,739.5 C2323.1,739.4 2317.5,738.4 2330.0,738.0 C2342.5,737.6 2355.3,737.9 2365.0,737.0 C2374.7,736.1 2381.4,734.0 2388.0,732.7 C2394.6,731.5 2398.9,729.6 2404.3,729.5 C2409.8,729.4 2416.1,729.3 2420.7,731.9 C2425.3,734.5 2428.6,740.6 2432.1,745.0 C2435.6,749.4 2438.6,753.8 2441.9,758.1 C2445.2,762.5 2448.0,770.0 2451.7,771.1 C2455.4,772.2 2460.7,768.1 2464.0,764.6 C2467.3,761.1 2467.9,757.5 2471.3,749.9 C2474.7,742.3 2480.6,726.1 2484.4,718.8 C2488.2,711.4 2490.1,707.8 2494.2,705.8 C2498.3,703.8 2504.8,704.3 2508.9,706.6 C2513.0,708.9 2513.5,713.3 2518.7,719.7 C2523.9,726.1 2534.0,740.8 2540.0,745.0 C2546.0,749.2 2549.2,745.8 2554.7,745.0 C2560.1,744.2 2565.1,741.0 2572.7,740.1 C2580.2,739.2 2563.3,739.8 2600.0,739.7 C2636.7,739.6 2760.8,739.7 2793.0,739.7" fill="none" stroke="#000" stroke-width="6.25" stroke-linejoin="round" stroke-linecap="butt" stroke-dasharray="6.25 10.3" clip-path="url(#cr)"/>
<path d="M1865.6,651.5 C1868.7,655.1 1877.8,665.9 1884.0,673.0 C1890.2,680.1 1897.8,688.9 1902.8,694.4 C1907.8,699.9 1909.9,703.2 1914.2,705.8 C1918.5,708.4 1923.2,708.7 1928.5,710.1 C1933.8,711.5 1939.0,712.0 1945.7,714.4 C1952.4,716.8 1961.4,722.5 1968.5,724.4 C1975.6,726.3 1982.8,724.6 1988.5,725.8 C1994.2,727.0 1995.6,730.1 2002.8,731.6 C2010.0,733.1 2019.5,734.1 2031.4,735.0 C2043.3,735.9 2057.6,736.2 2074.3,736.7 C2091.0,737.2 2114.8,737.3 2131.5,737.8 C2148.2,738.3 2163.0,739.5 2174.4,739.6 C2185.8,739.7 2179.4,738.5 2200.0,738.5 C2220.6,738.5 2270.8,739.4 2298.0,739.3 C2325.2,739.2 2341.7,738.1 2363.5,738.1 C2385.3,738.1 2409.7,739.5 2428.8,739.3 C2447.9,739.1 2464.3,736.9 2477.9,736.8 C2491.5,736.7 2500.2,739.2 2510.6,738.5 C2520.9,737.8 2532.4,733.0 2540.0,732.7 C2547.6,732.4 2551.3,734.2 2556.3,736.8 C2561.3,739.3 2564.2,744.0 2570.0,748.0 C2575.8,752.0 2585.9,759.2 2591.0,760.5 C2596.1,761.8 2597.8,758.6 2600.8,756.0 C2603.8,753.4 2606.5,748.8 2609.0,745.0 C2611.5,741.2 2613.4,737.0 2615.6,733.5 C2617.8,730.0 2619.6,727.0 2622.1,723.7 C2624.6,720.4 2627.2,716.6 2630.3,713.9 C2633.4,711.2 2637.4,707.9 2640.9,707.4 C2644.4,706.9 2648.7,709.1 2651.5,710.7 C2654.3,712.3 2655.6,714.5 2658.0,717.2 C2660.4,719.9 2663.5,723.5 2666.2,727.0 C2668.9,730.5 2671.9,735.1 2674.4,738.4 C2676.9,741.7 2678.7,744.8 2680.9,746.6 C2683.1,748.4 2681.8,750.0 2687.5,749.0 C2693.2,748.0 2706.5,742.5 2715.2,740.9 C2723.9,739.3 2724.7,739.1 2739.7,739.2 C2754.7,739.3 2788.8,739.7 2805.1,741.7 C2821.4,743.8 2829.1,748.1 2837.8,751.5 C2846.5,754.9 2854.1,760.3 2857.4,762.1" fill="none" stroke="#0066b2" stroke-width="6.25" stroke-linejoin="round" stroke-linecap="square" clip-path="url(#cr)"/>
<rect x="332" y="199" width="1137.5" height="681.7" fill="none" stroke="#000" stroke-width="3.333" stroke-linejoin="miter"/>
<rect x="1817" y="199" width="1138" height="681.7" fill="none" stroke="#000" stroke-width="3.333" stroke-linejoin="miter"/>
<g><line x1="349.75" y1="880.70" x2="349.75" y2="889.03" stroke="#000" stroke-width="2.5"/><line x1="372.82" y1="880.70" x2="372.82" y2="889.03" stroke="#000" stroke-width="2.5"/><line x1="391.68" y1="880.70" x2="391.68" y2="889.03" stroke="#000" stroke-width="2.5"/><line x1="407.62" y1="880.70" x2="407.62" y2="889.03" stroke="#000" stroke-width="2.5"/><line x1="421.43" y1="880.70" x2="421.43" y2="889.03" stroke="#000" stroke-width="2.5"/><line x1="433.61" y1="880.70" x2="433.61" y2="889.03" stroke="#000" stroke-width="2.5"/><line x1="444.50" y1="880.70" x2="444.50" y2="895.28" stroke="#000" stroke-width="3.333"/><line x1="516.18" y1="880.70" x2="516.18" y2="889.03" stroke="#000" stroke-width="2.5"/><line x1="558.10" y1="880.70" x2="558.10" y2="889.03" stroke="#000" stroke-width="2.5"/><line x1="587.85" y1="880.70" x2="587.85" y2="889.03" stroke="#000" stroke-width="2.5"/><line x1="610.92" y1="880.70" x2="610.92" y2="889.03" stroke="#000" stroke-width="2.5"/><line x1="629.78" y1="880.70" x2="629.78" y2="889.03" stroke="#000" stroke-width="2.5"/><line x1="645.72" y1="880.70" x2="645.72" y2="889.03" stroke="#000" stroke-width="2.5"/><line x1="659.53" y1="880.70" x2="659.53" y2="889.03" stroke="#000" stroke-width="2.5"/><line x1="671.71" y1="880.70" x2="671.71" y2="889.03" stroke="#000" stroke-width="2.5"/><line x1="682.60" y1="880.70" x2="682.60" y2="895.28" stroke="#000" stroke-width="3.333"/><line x1="754.28" y1="880.70" x2="754.28" y2="889.03" stroke="#000" stroke-width="2.5"/><line x1="796.20" y1="880.70" x2="796.20" y2="889.03" stroke="#000" stroke-width="2.5"/><line x1="825.95" y1="880.70" x2="825.95" y2="889.03" stroke="#000" stroke-width="2.5"/><line x1="849.02" y1="880.70" x2="849.02" y2="889.03" stroke="#000" stroke-width="2.5"/><line x1="867.88" y1="880.70" x2="867.88" y2="889.03" stroke="#000" stroke-width="2.5"/><line x1="883.82" y1="880.70" x2="883.82" y2="889.03" stroke="#000" stroke-width="2.5"/><line x1="897.63" y1="880.70" x2="897.63" y2="889.03" stroke="#000" stroke-width="2.5"/><line x1="909.81" y1="880.70" x2="909.81" y2="889.03" stroke="#000" stroke-width="2.5"/><line x1="920.70" y1="880.70" x2="920.70" y2="895.28" stroke="#000" stroke-width="3.333"/><line x1="992.38" y1="880.70" x2="992.38" y2="889.03" stroke="#000" stroke-width="2.5"/><line x1="1034.30" y1="880.70" x2="1034.30" y2="889.03" stroke="#000" stroke-width="2.5"/><line x1="1064.05" y1="880.70" x2="1064.05" y2="889.03" stroke="#000" stroke-width="2.5"/><line x1="1087.12" y1="880.70" x2="1087.12" y2="889.03" stroke="#000" stroke-width="2.5"/><line x1="1105.98" y1="880.70" x2="1105.98" y2="889.03" stroke="#000" stroke-width="2.5"/><line x1="1121.92" y1="880.70" x2="1121.92" y2="889.03" stroke="#000" stroke-width="2.5"/><line x1="1135.73" y1="880.70" x2="1135.73" y2="889.03" stroke="#000" stroke-width="2.5"/><line x1="1147.91" y1="880.70" x2="1147.91" y2="889.03" stroke="#000" stroke-width="2.5"/><line x1="1158.80" y1="880.70" x2="1158.80" y2="895.28" stroke="#000" stroke-width="3.333"/><line x1="1230.48" y1="880.70" x2="1230.48" y2="889.03" stroke="#000" stroke-width="2.5"/><line x1="1272.40" y1="880.70" x2="1272.40" y2="889.03" stroke="#000" stroke-width="2.5"/><line x1="1302.15" y1="880.70" x2="1302.15" y2="889.03" stroke="#000" stroke-width="2.5"/><line x1="1325.22" y1="880.70" x2="1325.22" y2="889.03" stroke="#000" stroke-width="2.5"/><line x1="1344.08" y1="880.70" x2="1344.08" y2="889.03" stroke="#000" stroke-width="2.5"/><line x1="1360.02" y1="880.70" x2="1360.02" y2="889.03" stroke="#000" stroke-width="2.5"/><line x1="1373.83" y1="880.70" x2="1373.83" y2="889.03" stroke="#000" stroke-width="2.5"/><line x1="1386.01" y1="880.70" x2="1386.01" y2="889.03" stroke="#000" stroke-width="2.5"/><line x1="1396.90" y1="880.70" x2="1396.90" y2="895.28" stroke="#000" stroke-width="3.333"/><line x1="1468.58" y1="880.70" x2="1468.58" y2="889.03" stroke="#000" stroke-width="2.5"/><line x1="1468.58" y1="199.00" x2="1468.58" y2="190.67" stroke="#000" stroke-width="2.5"/><line x1="1449.72" y1="199.00" x2="1449.72" y2="190.67" stroke="#000" stroke-width="2.5"/><line x1="1433.78" y1="199.00" x2="1433.78" y2="190.67" stroke="#000" stroke-width="2.5"/><line x1="1419.97" y1="199.00" x2="1419.97" y2="190.67" stroke="#000" stroke-width="2.5"/><line x1="1407.79" y1="199.00" x2="1407.79" y2="190.67" stroke="#000" stroke-width="2.5"/><line x1="1396.90" y1="199.00" x2="1396.90" y2="184.42" stroke="#000" stroke-width="3.333"/><line x1="1325.22" y1="199.00" x2="1325.22" y2="190.67" stroke="#000" stroke-width="2.5"/><line x1="1283.30" y1="199.00" x2="1283.30" y2="190.67" stroke="#000" stroke-width="2.5"/><line x1="1253.55" y1="199.00" x2="1253.55" y2="190.67" stroke="#000" stroke-width="2.5"/><line x1="1230.48" y1="199.00" x2="1230.48" y2="190.67" stroke="#000" stroke-width="2.5"/><line x1="1211.62" y1="199.00" x2="1211.62" y2="190.67" stroke="#000" stroke-width="2.5"/><line x1="1195.68" y1="199.00" x2="1195.68" y2="190.67" stroke="#000" stroke-width="2.5"/><line x1="1181.87" y1="199.00" x2="1181.87" y2="190.67" stroke="#000" stroke-width="2.5"/><line x1="1169.69" y1="199.00" x2="1169.69" y2="190.67" stroke="#000" stroke-width="2.5"/><line x1="1158.80" y1="199.00" x2="1158.80" y2="184.42" stroke="#000" stroke-width="3.333"/><line x1="1087.12" y1="199.00" x2="1087.12" y2="190.67" stroke="#000" stroke-width="2.5"/><line x1="1045.20" y1="199.00" x2="1045.20" y2="190.67" stroke="#000" stroke-width="2.5"/><line x1="1015.45" y1="199.00" x2="1015.45" y2="190.67" stroke="#000" stroke-width="2.5"/><line x1="992.38" y1="199.00" x2="992.38" y2="190.67" stroke="#000" stroke-width="2.5"/><line x1="973.52" y1="199.00" x2="973.52" y2="190.67" stroke="#000" stroke-width="2.5"/><line x1="957.58" y1="199.00" x2="957.58" y2="190.67" stroke="#000" stroke-width="2.5"/><line x1="943.77" y1="199.00" x2="943.77" y2="190.67" stroke="#000" stroke-width="2.5"/><line x1="931.59" y1="199.00" x2="931.59" y2="190.67" stroke="#000" stroke-width="2.5"/><line x1="920.70" y1="199.00" x2="920.70" y2="184.42" stroke="#000" stroke-width="3.333"/><line x1="849.02" y1="199.00" x2="849.02" y2="190.67" stroke="#000" stroke-width="2.5"/><line x1="807.10" y1="199.00" x2="807.10" y2="190.67" stroke="#000" stroke-width="2.5"/><line x1="777.35" y1="199.00" x2="777.35" y2="190.67" stroke="#000" stroke-width="2.5"/><line x1="754.28" y1="199.00" x2="754.28" y2="190.67" stroke="#000" stroke-width="2.5"/><line x1="735.42" y1="199.00" x2="735.42" y2="190.67" stroke="#000" stroke-width="2.5"/><line x1="719.48" y1="199.00" x2="719.48" y2="190.67" stroke="#000" stroke-width="2.5"/><line x1="705.67" y1="199.00" x2="705.67" y2="190.67" stroke="#000" stroke-width="2.5"/><line x1="693.49" y1="199.00" x2="693.49" y2="190.67" stroke="#000" stroke-width="2.5"/><line x1="682.60" y1="199.00" x2="682.60" y2="184.42" stroke="#000" stroke-width="3.333"/><line x1="610.92" y1="199.00" x2="610.92" y2="190.67" stroke="#000" stroke-width="2.5"/><line x1="569.00" y1="199.00" x2="569.00" y2="190.67" stroke="#000" stroke-width="2.5"/><line x1="539.25" y1="199.00" x2="539.25" y2="190.67" stroke="#000" stroke-width="2.5"/><line x1="516.18" y1="199.00" x2="516.18" y2="190.67" stroke="#000" stroke-width="2.5"/><line x1="497.32" y1="199.00" x2="497.32" y2="190.67" stroke="#000" stroke-width="2.5"/><line x1="481.38" y1="199.00" x2="481.38" y2="190.67" stroke="#000" stroke-width="2.5"/><line x1="467.57" y1="199.00" x2="467.57" y2="190.67" stroke="#000" stroke-width="2.5"/><line x1="455.39" y1="199.00" x2="455.39" y2="190.67" stroke="#000" stroke-width="2.5"/><line x1="444.50" y1="199.00" x2="444.50" y2="184.42" stroke="#000" stroke-width="3.333"/><line x1="372.82" y1="199.00" x2="372.82" y2="190.67" stroke="#000" stroke-width="2.5"/><line x1="332.00" y1="322.90" x2="317.42" y2="322.90" stroke="#000" stroke-width="3.333"/><line x1="332.00" y1="468.80" x2="317.42" y2="468.80" stroke="#000" stroke-width="3.333"/><line x1="332.00" y1="614.70" x2="317.42" y2="614.70" stroke="#000" stroke-width="3.333"/><line x1="332.00" y1="760.60" x2="317.42" y2="760.60" stroke="#000" stroke-width="3.333"/><line x1="1816.42" y1="880.70" x2="1816.42" y2="889.03" stroke="#000" stroke-width="2.5"/><line x1="1834.43" y1="880.70" x2="1834.43" y2="889.03" stroke="#000" stroke-width="2.5"/><line x1="1849.66" y1="880.70" x2="1849.66" y2="889.03" stroke="#000" stroke-width="2.5"/><line x1="1862.85" y1="880.70" x2="1862.85" y2="889.03" stroke="#000" stroke-width="2.5"/><line x1="1874.49" y1="880.70" x2="1874.49" y2="889.03" stroke="#000" stroke-width="2.5"/><line x1="1884.90" y1="880.70" x2="1884.90" y2="895.28" stroke="#000" stroke-width="3.333"/><line x1="1953.38" y1="880.70" x2="1953.38" y2="889.03" stroke="#000" stroke-width="2.5"/><line x1="1993.45" y1="880.70" x2="1993.45" y2="889.03" stroke="#000" stroke-width="2.5"/><line x1="2021.87" y1="880.70" x2="2021.87" y2="889.03" stroke="#000" stroke-width="2.5"/><line x1="2043.92" y1="880.70" x2="2043.92" y2="889.03" stroke="#000" stroke-width="2.5"/><line x1="2061.93" y1="880.70" x2="2061.93" y2="889.03" stroke="#000" stroke-width="2.5"/><line x1="2077.16" y1="880.70" x2="2077.16" y2="889.03" stroke="#000" stroke-width="2.5"/><line x1="2090.35" y1="880.70" x2="2090.35" y2="889.03" stroke="#000" stroke-width="2.5"/><line x1="2101.99" y1="880.70" x2="2101.99" y2="889.03" stroke="#000" stroke-width="2.5"/><line x1="2112.40" y1="880.70" x2="2112.40" y2="895.28" stroke="#000" stroke-width="3.333"/><line x1="2180.88" y1="880.70" x2="2180.88" y2="889.03" stroke="#000" stroke-width="2.5"/><line x1="2220.95" y1="880.70" x2="2220.95" y2="889.03" stroke="#000" stroke-width="2.5"/><line x1="2249.37" y1="880.70" x2="2249.37" y2="889.03" stroke="#000" stroke-width="2.5"/><line x1="2271.42" y1="880.70" x2="2271.42" y2="889.03" stroke="#000" stroke-width="2.5"/><line x1="2289.43" y1="880.70" x2="2289.43" y2="889.03" stroke="#000" stroke-width="2.5"/><line x1="2304.66" y1="880.70" x2="2304.66" y2="889.03" stroke="#000" stroke-width="2.5"/><line x1="2317.85" y1="880.70" x2="2317.85" y2="889.03" stroke="#000" stroke-width="2.5"/><line x1="2329.49" y1="880.70" x2="2329.49" y2="889.03" stroke="#000" stroke-width="2.5"/><line x1="2339.90" y1="880.70" x2="2339.90" y2="895.28" stroke="#000" stroke-width="3.333"/><line x1="2408.38" y1="880.70" x2="2408.38" y2="889.03" stroke="#000" stroke-width="2.5"/><line x1="2448.45" y1="880.70" x2="2448.45" y2="889.03" stroke="#000" stroke-width="2.5"/><line x1="2476.87" y1="880.70" x2="2476.87" y2="889.03" stroke="#000" stroke-width="2.5"/><line x1="2498.92" y1="880.70" x2="2498.92" y2="889.03" stroke="#000" stroke-width="2.5"/><line x1="2516.93" y1="880.70" x2="2516.93" y2="889.03" stroke="#000" stroke-width="2.5"/><line x1="2532.16" y1="880.70" x2="2532.16" y2="889.03" stroke="#000" stroke-width="2.5"/><line x1="2545.35" y1="880.70" x2="2545.35" y2="889.03" stroke="#000" stroke-width="2.5"/><line x1="2556.99" y1="880.70" x2="2556.99" y2="889.03" stroke="#000" stroke-width="2.5"/><line x1="2567.40" y1="880.70" x2="2567.40" y2="895.28" stroke="#000" stroke-width="3.333"/><line x1="2635.88" y1="880.70" x2="2635.88" y2="889.03" stroke="#000" stroke-width="2.5"/><line x1="2675.95" y1="880.70" x2="2675.95" y2="889.03" stroke="#000" stroke-width="2.5"/><line x1="2704.37" y1="880.70" x2="2704.37" y2="889.03" stroke="#000" stroke-width="2.5"/><line x1="2726.42" y1="880.70" x2="2726.42" y2="889.03" stroke="#000" stroke-width="2.5"/><line x1="2744.43" y1="880.70" x2="2744.43" y2="889.03" stroke="#000" stroke-width="2.5"/><line x1="2759.66" y1="880.70" x2="2759.66" y2="889.03" stroke="#000" stroke-width="2.5"/><line x1="2772.85" y1="880.70" x2="2772.85" y2="889.03" stroke="#000" stroke-width="2.5"/><line x1="2784.49" y1="880.70" x2="2784.49" y2="889.03" stroke="#000" stroke-width="2.5"/><line x1="2794.90" y1="880.70" x2="2794.90" y2="895.28" stroke="#000" stroke-width="3.333"/><line x1="2863.38" y1="880.70" x2="2863.38" y2="889.03" stroke="#000" stroke-width="2.5"/><line x1="2903.45" y1="880.70" x2="2903.45" y2="889.03" stroke="#000" stroke-width="2.5"/><line x1="2931.87" y1="880.70" x2="2931.87" y2="889.03" stroke="#000" stroke-width="2.5"/><line x1="2953.92" y1="880.70" x2="2953.92" y2="889.03" stroke="#000" stroke-width="2.5"/><line x1="1817.00" y1="880.70" x2="1802.42" y2="880.70" stroke="#000" stroke-width="3.333"/><line x1="1817.00" y1="825.22" x2="1808.67" y2="825.22" stroke="#000" stroke-width="2.5"/><line x1="1817.00" y1="792.77" x2="1808.67" y2="792.77" stroke="#000" stroke-width="2.5"/><line x1="1817.00" y1="769.74" x2="1808.67" y2="769.74" stroke="#000" stroke-width="2.5"/><line x1="1817.00" y1="751.88" x2="1808.67" y2="751.88" stroke="#000" stroke-width="2.5"/><line x1="1817.00" y1="737.29" x2="1808.67" y2="737.29" stroke="#000" stroke-width="2.5"/><line x1="1817.00" y1="724.95" x2="1808.67" y2="724.95" stroke="#000" stroke-width="2.5"/><line x1="1817.00" y1="714.26" x2="1808.67" y2="714.26" stroke="#000" stroke-width="2.5"/><line x1="1817.00" y1="704.83" x2="1808.67" y2="704.83" stroke="#000" stroke-width="2.5"/><line x1="1817.00" y1="696.40" x2="1802.42" y2="696.40" stroke="#000" stroke-width="3.333"/><line x1="1817.00" y1="640.92" x2="1808.67" y2="640.92" stroke="#000" stroke-width="2.5"/><line x1="1817.00" y1="608.47" x2="1808.67" y2="608.47" stroke="#000" stroke-width="2.5"/><line x1="1817.00" y1="585.44" x2="1808.67" y2="585.44" stroke="#000" stroke-width="2.5"/><line x1="1817.00" y1="567.58" x2="1808.67" y2="567.58" stroke="#000" stroke-width="2.5"/><line x1="1817.00" y1="552.99" x2="1808.67" y2="552.99" stroke="#000" stroke-width="2.5"/><line x1="1817.00" y1="540.65" x2="1808.67" y2="540.65" stroke="#000" stroke-width="2.5"/><line x1="1817.00" y1="529.96" x2="1808.67" y2="529.96" stroke="#000" stroke-width="2.5"/><line x1="1817.00" y1="520.53" x2="1808.67" y2="520.53" stroke="#000" stroke-width="2.5"/><line x1="1817.00" y1="512.10" x2="1802.42" y2="512.10" stroke="#000" stroke-width="3.333"/><line x1="1817.00" y1="456.62" x2="1808.67" y2="456.62" stroke="#000" stroke-width="2.5"/><line x1="1817.00" y1="424.17" x2="1808.67" y2="424.17" stroke="#000" stroke-width="2.5"/><line x1="1817.00" y1="401.14" x2="1808.67" y2="401.14" stroke="#000" stroke-width="2.5"/><line x1="1817.00" y1="383.28" x2="1808.67" y2="383.28" stroke="#000" stroke-width="2.5"/><line x1="1817.00" y1="368.69" x2="1808.67" y2="368.69" stroke="#000" stroke-width="2.5"/><line x1="1817.00" y1="356.35" x2="1808.67" y2="356.35" stroke="#000" stroke-width="2.5"/><line x1="1817.00" y1="345.66" x2="1808.67" y2="345.66" stroke="#000" stroke-width="2.5"/><line x1="1817.00" y1="336.23" x2="1808.67" y2="336.23" stroke="#000" stroke-width="2.5"/><line x1="1817.00" y1="327.80" x2="1802.42" y2="327.80" stroke="#000" stroke-width="3.333"/><line x1="1817.00" y1="272.32" x2="1808.67" y2="272.32" stroke="#000" stroke-width="2.5"/><line x1="1817.00" y1="239.87" x2="1808.67" y2="239.87" stroke="#000" stroke-width="2.5"/><line x1="1817.00" y1="216.84" x2="1808.67" y2="216.84" stroke="#000" stroke-width="2.5"/><line x1="1817.00" y1="198.98" x2="1808.67" y2="198.98" stroke="#000" stroke-width="2.5"/></g>
<g font-family="Liberation Sans" fill="#000">
<text transform="translate(135.82,344.95) scale(0.66366,0.61434)" font-size="100">10</text>
<text transform="translate(211.88,323.70) scale(0.50484,0.44014)" font-size="100">−13</text>
<text transform="translate(135.82,490.85) scale(0.66366,0.61434)" font-size="100">10</text>
<text transform="translate(211.88,469.60) scale(0.50405,0.44655)" font-size="100">−15</text>
<text transform="translate(135.82,636.75) scale(0.66366,0.61434)" font-size="100">10</text>
<text transform="translate(211.86,615.50) scale(0.50721,0.44655)" font-size="100">−17</text>
<text transform="translate(135.82,782.65) scale(0.66366,0.61434)" font-size="100">10</text>
<text transform="translate(211.87,761.40) scale(0.50563,0.44014)" font-size="100">−19</text>
<text transform="translate(1621.58,349.85) scale(0.65664,0.61434)" font-size="100">10</text>
<text transform="translate(1696.49,328.60) scale(0.50280,0.44655)" font-size="100">−15</text>
<text transform="translate(1621.58,534.15) scale(0.65664,0.61434)" font-size="100">10</text>
<text transform="translate(1696.48,512.90) scale(0.50359,0.44014)" font-size="100">−16</text>
<text transform="translate(1621.58,718.45) scale(0.65664,0.61434)" font-size="100">10</text>
<text transform="translate(1696.47,697.20) scale(0.50596,0.44655)" font-size="100">−17</text>
<text transform="translate(1621.58,902.75) scale(0.65664,0.61434)" font-size="100">10</text>
<text transform="translate(1696.48,881.50) scale(0.50359,0.44014)" font-size="100">−18</text>
<text transform="translate(376.03,955.20) scale(0.66266,0.61935)" font-size="100">10</text>
<text transform="translate(452.00,933.20) scale(0.50000,0.43441)" font-size="100">−2</text>
<text transform="translate(614.13,955.20) scale(0.66266,0.61935)" font-size="100">10</text>
<text transform="translate(690.11,933.20) scale(0.49880,0.44073)" font-size="100">−1</text>
<text transform="translate(869.15,955.20) scale(0.65965,0.61935)" font-size="100">10</text>
<text transform="translate(943.94,933.20) scale(0.43979,0.43441)" font-size="100">0</text>
<text transform="translate(1107.25,955.20) scale(0.65965,0.61935)" font-size="100">10</text>
<text transform="translate(1180.16,933.20) scale(0.48555,0.44073)" font-size="100">1</text>
<text transform="translate(1345.35,955.20) scale(0.65965,0.61935)" font-size="100">10</text>
<text transform="translate(1419.59,933.20) scale(0.46154,0.43441)" font-size="100">2</text>
<text transform="translate(1802.12,955.20) scale(0.65063,0.61935)" font-size="100">10</text>
<text transform="translate(1877.80,933.20) scale(0.49969,0.44073)" font-size="100">−17</text>
<text transform="translate(2029.62,955.20) scale(0.65063,0.61935)" font-size="100">10</text>
<text transform="translate(2105.31,933.20) scale(0.49735,0.43441)" font-size="100">−16</text>
<text transform="translate(2257.12,955.20) scale(0.65063,0.61935)" font-size="100">10</text>
<text transform="translate(2332.82,933.20) scale(0.49657,0.44073)" font-size="100">−15</text>
<text transform="translate(2484.62,955.20) scale(0.65063,0.61935)" font-size="100">10</text>
<text transform="translate(2560.34,933.20) scale(0.49274,0.44073)" font-size="100">−14</text>
<text transform="translate(2712.12,955.20) scale(0.65063,0.61935)" font-size="100">10</text>
<text transform="translate(2787.81,933.20) scale(0.49735,0.43441)" font-size="100">−13</text>
<text transform="translate(392.95,155.80) scale(0.65965,0.61362)" font-size="100">10</text>
<text transform="translate(467.19,134.80) scale(0.46154,0.45591)" font-size="100">2</text>
<text transform="translate(631.05,155.80) scale(0.65965,0.61362)" font-size="100">10</text>
<text transform="translate(703.96,134.80) scale(0.48555,0.46255)" font-size="100">1</text>
<text transform="translate(869.15,155.80) scale(0.65965,0.61362)" font-size="100">10</text>
<text transform="translate(943.94,134.80) scale(0.43979,0.45591)" font-size="100">0</text>
<text transform="translate(1090.33,155.80) scale(0.66266,0.61362)" font-size="100">10</text>
<text transform="translate(1166.31,134.80) scale(0.49880,0.46255)" font-size="100">−1</text>
<text transform="translate(1328.43,155.80) scale(0.66266,0.61362)" font-size="100">10</text>
<text transform="translate(1404.40,134.80) scale(0.50000,0.45591)" font-size="100">−2</text>
<text transform="translate(736.55,94.40) scale(0.74487,0.71127)" font-size="100">L (in Mpc)</text>
<text transform="translate(699.18,1044.90) scale(0.75215,0.69931)" font-size="100" font-style="italic">k</text>
<text transform="translate(759.88,1044.90) scale(0.73887,0.71273)" font-size="100">(in Mpc</text>
<text transform="translate(1005.89,1018.90) scale(0.58129,0.50909)" font-size="100">−1</text>
<text transform="translate(1081.58,1044.90) scale(0.56000,0.71273)" font-size="100">)</text>
<text transform="translate(2254.06,1035.00) scale(0.83939,0.70345)" font-size="100" font-style="italic">f</text>
<text transform="translate(2298.58,1035.00) scale(0.73936,0.71273)" font-size="100">(in Hz)</text>
<text transform="translate(101.20,667.07) rotate(-90) scale(0.68880,0.70255)" font-size="100" font-style="italic">B</text>
<text transform="translate(101.20,598.60) rotate(-90) scale(0.73600,0.69247)" font-size="100">(in G)</text>
<text transform="translate(1587.00,647.64) rotate(-90) scale(0.76548,0.68966)" font-size="100" font-style="italic">h</text>
<text transform="translate(1561.00,599.53) rotate(-90) scale(0.50549,0.48746)" font-size="100">2</text>
<text transform="translate(1587.00,569.95) rotate(-90) scale(0.69434,0.67384)" font-size="100">Ω</text>
<text transform="translate(1600.00,516.31) rotate(-90) scale(0.46177,0.51613)" font-size="100">GW</text>
<text transform="translate(2459.22,282.50) scale(0.56053,0.54480)" font-size="100">run G,</text>
<text transform="translate(2631.12,282.50) scale(0.55714,0.56930)" font-size="100" font-style="italic">m</text>
<text transform="translate(2677.52,287.02) scale(0.37698,0.34576)" font-size="100" font-style="italic">Q</text>
<text transform="translate(2718.19,282.16) scale(0.68247,0.49302)" font-size="100">=</text>
<text transform="translate(2769.64,282.50) scale(0.54105,0.55273)" font-size="100">5.71</text>
<text transform="translate(2459.21,361.40) scale(0.56109,0.54480)" font-size="100">run C1,</text>
<text transform="translate(2659.33,361.40) scale(0.55714,0.56930)" font-size="100" font-style="italic">m</text>
<text transform="translate(2705.50,365.92) scale(0.37986,0.34576)" font-size="100" font-style="italic">Q</text>
<text transform="translate(2746.40,361.06) scale(0.68041,0.49302)" font-size="100">=</text>
<text transform="translate(2797.21,361.40) scale(0.55827,0.54480)" font-size="100">2.37</text>
<text transform="translate(2459.13,440.60) scale(0.57310,0.55273)" font-size="100">run H,</text>
<text transform="translate(2629.93,440.60) scale(0.55714,0.56930)" font-size="100" font-style="italic">m</text>
<text transform="translate(2676.85,445.12) scale(0.36978,0.34576)" font-size="100" font-style="italic">Q</text>
<text transform="translate(2716.89,440.26) scale(0.68247,0.49302)" font-size="100">=</text>
<text transform="translate(2767.78,440.60) scale(0.56439,0.54480)" font-size="100">2.34</text>
</g>
<line x1="2319.6" y1="264.6" x2="2420" y2="264.6" stroke="#993333" stroke-width="6.25" stroke-dasharray="23.1 10"/>
<line x1="2319.6" y1="343.8" x2="2420" y2="343.8" stroke="#000" stroke-width="6.25" stroke-dasharray="6.25 10.3"/>
<line x1="2319.6" y1="423.7" x2="2420" y2="423.7" stroke="#0066b2" stroke-width="6.25" stroke-linecap="square"/>
</svg>
</body></html>
